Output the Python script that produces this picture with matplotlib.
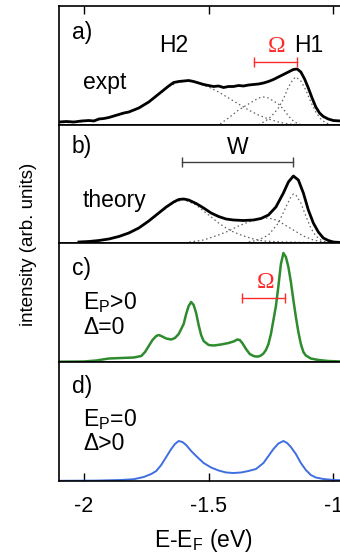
import numpy as np
import matplotlib
matplotlib.use('Agg')
import matplotlib.pyplot as plt

plt.rcParams['font.family'] = ['Liberation Sans', 'DejaVu Sans']
plt.rcParams['mathtext.fontset'] = 'custom'
plt.rcParams['mathtext.rm'] = 'Liberation Sans'
plt.rcParams['mathtext.it'] = 'Liberation Sans'
plt.rcParams['axes.unicode_minus'] = False

# panel a) experiment (energy in eV, intensity in arb. units)
expt_E = [-2.10, -2.07, -2.04, -2.01, -1.98, -1.96, -1.94, -1.92, -1.90, -1.88, -1.86, -1.84,
          -1.82, -1.80, -1.78, -1.76, -1.74, -1.72, -1.70, -1.68, -1.66, -1.64, -1.62, -1.60,
          -1.58, -1.56, -1.54, -1.52, -1.50, -1.48, -1.46, -1.44, -1.42, -1.40, -1.38, -1.36,
          -1.34, -1.32, -1.30, -1.28, -1.26, -1.24, -1.22, -1.20, -1.18, -1.16, -1.145, -1.13,
          -1.115, -1.10, -1.085, -1.07, -1.055, -1.04, -1.02, -1.00, -0.97]
expt_I = [3, 3.5, 3, 4, 4.5, 4, 6, 6.5, 7.5, 9, 10.5, 12,
          13, 15, 17, 20, 23, 27, 31, 35, 39, 42.5, 43.5, 44,
          44.5, 43.5, 42, 40.5, 39.5, 38.5, 39, 37.5, 38.5, 38.5, 39.5, 39,
          40, 40.5, 41, 42, 43.5, 45.5, 48, 50.5, 53, 55.5, 56, 53,
          46, 37, 27, 18, 12, 8.5, 6, 4.5, 4]
# fitted components of a)
a_h2_E = [-2.10, -2.04, -1.98, -1.92, -1.86, -1.80, -1.74, -1.70, -1.66, -1.62, -1.58, -1.54,
          -1.50, -1.46, -1.42, -1.38, -1.34, -1.30, -1.26, -1.22, -1.18, -1.12, -0.97]
a_h2_I = [2.5, 2.5, 4, 6, 10, 14.5, 22.5, 30.5, 38.5, 43, 44, 41.5,
          38, 33, 27, 21, 15, 10, 6, 3, 1, 0, 0]
a_mid_E = [-2.10, -1.46, -1.42, -1.38, -1.36, -1.34, -1.30, -1.28, -1.26, -1.24, -1.22, -1.20,
           -1.18, -1.16, -1.14, -1.12, -0.97]
a_mid_I = [0, 0, 7, 15, 18, 21, 27, 28, 27, 24, 21, 16,
           9, 4, 1, 0, 0]
a_h1_E = [-2.10, -1.30, -1.26, -1.24, -1.22, -1.20, -1.18, -1.16, -1.15, -1.13, -1.11, -1.09,
          -1.07, -1.05, -1.03, -1.00, -0.97]
a_h1_I = [0, 0, 6, 11, 17, 26, 38, 46, 48, 44, 35, 23,
          13, 6, 2, 0, 0]

# panel b) theory
theo_E = [-2.02, -1.98, -1.94, -1.90, -1.86, -1.82, -1.78, -1.74, -1.70, -1.67, -1.64, -1.62,
          -1.60, -1.58, -1.55, -1.52, -1.49, -1.46, -1.43, -1.40, -1.36, -1.32, -1.29, -1.26,
          -1.23, -1.20, -1.18, -1.16, -1.14, -1.12, -1.10, -1.08, -1.06, -1.04, -1.02, -1.00, -0.97]
theo_I = [1, 1.5, 2.5, 4, 6.5, 10, 15, 22, 30, 36, 41, 43.5,
          44, 43, 39.5, 35, 30, 26.5, 24, 23, 22.5, 23, 24.5, 28,
          36, 50, 61, 67, 63, 50, 33, 20, 11, 5, 2.5, 1, 0.5]
b_h2_E = [-2.02, -1.94, -1.86, -1.78, -1.70, -1.64, -1.60, -1.55, -1.52, -1.49, -1.46, -1.43,
          -1.40, -1.36, -1.32, -1.28, -1.20, -1.00]
b_h2_I = [1, 2.5, 6, 14.5, 29.5, 40.5, 43.5, 38, 32, 26, 20, 15,
          11, 7, 4, 2, 1, 0]
b_mid_E = [-2.02, -1.60, -1.52, -1.46, -1.42, -1.38, -1.34, -1.30, -1.27, -1.24, -1.20, -1.16,
           -1.12, -1.08, -1.04, -1.00]
b_mid_I = [0, 0, 3, 8, 12, 17, 21, 24, 25, 24, 19, 13,
           7, 3, 1, 0]
b_h1_E = [-2.02, -1.36, -1.30, -1.26, -1.22, -1.19, -1.17, -1.16, -1.15, -1.13, -1.11, -1.09,
          -1.07, -1.05, -1.02, -0.97]
b_h1_I = [0, 0, 3, 8, 20, 36, 46, 49, 48, 40, 27, 15,
          7, 3, 0, 0]

# panel c) E_P>0, Delta=0
c_E = [-2.10, -2.00, -1.95, -1.90, -1.85, -1.80, -1.78, -1.77, -1.755, -1.74, -1.725, -1.71,
       -1.70, -1.69, -1.67, -1.65, -1.635, -1.62, -1.61, -1.60, -1.59, -1.58, -1.57, -1.56,
       -1.55, -1.54, -1.53, -1.52, -1.50, -1.48, -1.45, -1.42, -1.40, -1.385, -1.375, -1.365,
       -1.35, -1.335, -1.32, -1.31, -1.30, -1.29, -1.28, -1.27, -1.26, -1.25, -1.24, -1.23,
       -1.22, -1.21, -1.20, -1.19, -1.18, -1.17, -1.16, -1.15, -1.14, -1.13, -1.12, -1.11,
       -1.09, -1.06, -1.02, -0.97]
c_I = [0.3, 0.5, 1.5, 3.5, 4, 4.5, 5.5, 6, 10, 16, 22, 26,
       27, 26, 23.5, 22.5, 24, 28, 33, 38, 48, 56, 60, 57,
       49, 37, 27, 21, 17, 16.5, 17.5, 19, 20.5, 22.5, 22, 19,
       13, 8, 6, 5.5, 5.5, 6.5, 8.5, 12, 18, 28, 42, 56,
       76, 98, 109, 105, 95, 80, 62, 45, 30, 18, 10, 6.5,
       3.5, 2, 1, 0.5]

# panel d) E_P=0, Delta>0
d_E = [-2.10, -1.95, -1.85, -1.80, -1.76, -1.73, -1.71, -1.69, -1.67, -1.65, -1.635, -1.62,
       -1.605, -1.59, -1.57, -1.55, -1.52, -1.49, -1.46, -1.43, -1.40, -1.37, -1.34, -1.31,
       -1.28, -1.26, -1.24, -1.22, -1.20, -1.185, -1.17, -1.15, -1.13, -1.11, -1.09, -1.07,
       -1.04, -1.00, -0.97]
d_I = [0.2, 0.4, 1, 1.8, 4, 7, 10, 16, 24, 32, 37, 40,
       39, 36, 30, 25, 18, 13.5, 10.5, 8.5, 8, 8.5, 10, 12,
       18, 25, 32, 37.5, 40, 38, 34, 27, 18, 11, 6, 3.5,
       2, 1, 0.8]

W_bar = [-1.606, -1.160]
omega_a = [-1.317, -1.144]
omega_c = [-1.365, -1.192]
xticks = [-2, -1.5, -1]

W, H = 340, 555
fig = plt.figure(figsize=(W / 100, H / 100), dpi=100)
fs = 16.5

def panel(top, bottom):
    ax = fig.add_axes([59 / W, 1 - bottom / H, 283 / W, (bottom - top) / H])
    ax.set_xlim(-2.1, -0.965)
    ax.set_ylim(0, bottom - top)
    ax.set_yticks([])
    ax.set_xticks(xticks)
    ax.tick_params(axis='x', bottom=False, labelbottom=False, direction='in', length=6, width=1)
    for s in ax.spines.values():
        s.set_linewidth(1.2)
    return ax

dot = dict(color='#606060', lw=0.9, ls=(0, (1.2, 2.2)))
red = '#ff2a2a'

ax1 = panel(6, 125)
ax1.tick_params(axis='x', top=True)
ax1.plot(a_h2_E, a_h2_I, **dot)
ax1.plot(a_mid_E, a_mid_I, **dot)
ax1.plot(a_h1_E, a_h1_I, **dot)
ax1.plot(expt_E, expt_I, color='black', lw=2)
ax1.plot(omega_a, [63, 63], color=red, lw=1, marker='|', ms=7, mew=1)
ax1.text(-2.048, 93, 'a)', fontsize=fs, va='center')
ax1.text(-1.642, 80, 'H2', fontsize=fs, ha='center', va='center')
ax1.text(-1.100, 80, 'H1', fontsize=fs, ha='center', va='center')
ax1.text(-1.229, 78, 'Ω', fontsize=17, ha='center', va='center', color=red, family='Liberation Serif')
ax1.text(-2.004, 43, 'expt', fontsize=fs, va='center')

ax2 = panel(125, 243)
ax2.plot(b_h2_E, b_h2_I, **dot)
ax2.plot(b_mid_E, b_mid_I, **dot)
ax2.plot(b_h1_E, b_h1_I, **dot)
ax2.plot(theo_E, theo_I, color='black', lw=2)
ax2.plot(W_bar, [81, 81], color='#404040', lw=1, marker='|', ms=7, mew=1)
ax2.text(-2.048, 96, 'b)', fontsize=fs, va='center')
ax2.text(-1.385, 95, 'W', fontsize=fs, ha='center', va='center')
ax2.text(-2.004, 43, 'theory', fontsize=fs, va='center')

ax3 = panel(243, 362)
ax3.plot(c_E, c_I, color='#2e8b2e', lw=1.8)
ax3.plot(omega_c, [64, 64], color=red, lw=1, marker='|', ms=7, mew=1)
ax3.text(-1.273, 80, 'Ω', fontsize=17, ha='center', va='center', color=red, family='Liberation Serif')
ax3.text(-2.048, 94, 'c)', fontsize=fs, va='center')
ax3.text(-2.004, 59, r'E$_\mathrm{P}$>0', fontsize=fs, va='center')
ax3.text(-2.004, 35, 'Δ=0', fontsize=fs, va='center')

ax4 = panel(362, 481)
ax4.plot(d_E, d_I, color='#3f6ee0', lw=1.4)
ax4.tick_params(axis='x', bottom=True, labelbottom=True, labelsize=15.5, pad=11)
ax4.set_xticklabels(['-2', '-1.5', '-1'])
ax4.text(-2.048, 94, 'd)', fontsize=fs, va='center')
ax4.text(-2.004, 61, r'E$_\mathrm{P}$=0', fontsize=fs, va='center')
ax4.text(-2.004, 38, 'Δ>0', fontsize=fs, va='center')

fig.text(203 / W, 1 - 540 / H, r'E-E$_\mathrm{F}$ (eV)', fontsize=fs, ha='center', va='center')
fig.text(29 / W, 1 - 244 / H, 'intensity (arb. units)', fontsize=13.5, ha='center', va='center',
         rotation=90)

fig.savefig('out.png', dpi=100)
